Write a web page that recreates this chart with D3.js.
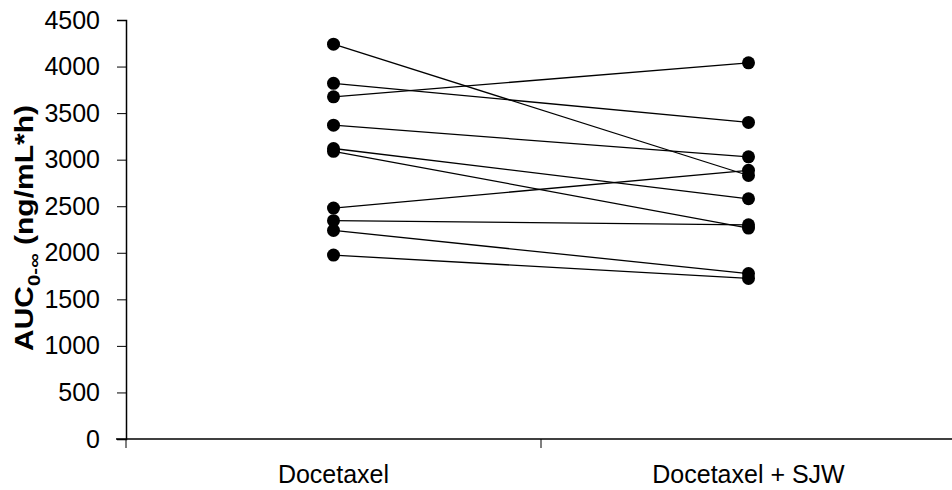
<!DOCTYPE html>
<html>
<head>
<meta charset="utf-8">
<script src="https://cdn.jsdelivr.net/npm/d3@7"></script>
<style>
  body { margin: 0; background: #fff; }
  text { font-family: "Liberation Sans", Arial, sans-serif; }
</style>
</head>
<body>
<div id="chart"></div>
<script>
// DATA ------------------------------------------------------------
var groups = ["Docetaxel", "Docetaxel + SJW"];
var before = [4240, 3820, 3675, 3370, 3120, 3090, 2480, 2345, 2240, 1975];
var after  = [2830, 3400, 4040, 3030, 2580, 2265, 2885, 2300, 1777, 1725];
var yTicks = [0, 500, 1000, 1500, 2000, 2500, 3000, 3500, 4000, 4500];

// SVG SIZE ------------------------------------------------------------
var width = 952, height = 490;
var margin = {top: 20, right: -4, bottom: 51, left: 126};

var svg = d3.select("#chart")
	.append("svg")
	.attr("width", width)
	.attr("height", height);

var x = d3.scaleBand()
	.domain(groups)
	.range([margin.left, width - margin.right]);

var y = d3.scaleLinear()
	.domain([0, 4500])
	.range([height - margin.bottom, margin.top]);

// axes
var yAxis = svg.append("g")
	.attr("transform", "translate(" + margin.left + ",0)")
	.call(d3.axisLeft(y).tickValues(yTicks).tickFormat(d3.format("d")).tickSize(9).tickPadding(17));

yAxis.select(".domain").attr("stroke-width", 1.5);
yAxis.selectAll(".tick line").attr("stroke-width", 1);
yAxis.selectAll("text").attr("font-size", "25px").attr("fill", "#000");

var xAxis = svg.append("g")
	.attr("transform", "translate(0," + y(0) + ")");

xAxis.append("line")
	.attr("x1", margin.left - 10)
	.attr("x2", width)
	.attr("stroke", "#000")
	.attr("stroke-width", 1.5);

// boundaries between categories
var edges = [margin.left].concat(groups.map(function(g) { return x(g) + x.bandwidth(); }));
xAxis.selectAll(".xtick")
	.data(edges)
	.enter()
	.append("line")
	.attr("x1", function(d) { return d; })
	.attr("x2", function(d) { return d; })
	.attr("y1", 0)
	.attr("y2", 9)
	.attr("stroke", "#000")
	.attr("stroke-width", 1);

xAxis.selectAll(".xlabel")
	.data(groups)
	.enter()
	.append("text")
	.attr("x", function(d) { return x(d) + x.bandwidth() / 2; })
	.attr("y", 44)
	.attr("text-anchor", "middle")
	.attr("font-size", "25px")
	.text(function(d) { return d; });

// y label, stretched along its length like the original
var ylab = svg.append("text")
	.attr("text-anchor", "middle")
	.attr("font-size", "25px")
	.attr("font-weight", "bold");
ylab.append("tspan").text("AUC");
ylab.append("tspan").attr("font-size", "17px").attr("dy", 7).text("0-\u221E");
ylab.append("tspan").attr("dy", -7).text(" (ng/mL*h)");
var labLen = ylab.node().getComputedTextLength();
ylab.attr("transform", "translate(33,228) rotate(-90) scale(" + (246 / labLen) + ",1)");

// paired lines
var cx0 = x(groups[0]) + x.bandwidth() / 2,
    cx1 = x(groups[1]) + x.bandwidth() / 2;

svg.selectAll(".pair")
	.data(before)
	.enter()
	.append("line")
	.attr("x1", cx0)
	.attr("y1", function(d) { return y(d); })
	.attr("x2", cx1)
	.attr("y2", function(d, i) { return y(after[i]); })
	.attr("stroke", "#000")
	.attr("stroke-width", 1.3);

svg.selectAll(".pt0")
	.data(before)
	.enter()
	.append("circle")
	.attr("cx", cx0)
	.attr("cy", function(d) { return y(d); })
	.attr("r", 6.5)
	.attr("fill", "#000");

svg.selectAll(".pt1")
	.data(after)
	.enter()
	.append("circle")
	.attr("cx", cx1)
	.attr("cy", function(d) { return y(d); })
	.attr("r", 6.5)
	.attr("fill", "#000");
</script>
</body>
</html>
